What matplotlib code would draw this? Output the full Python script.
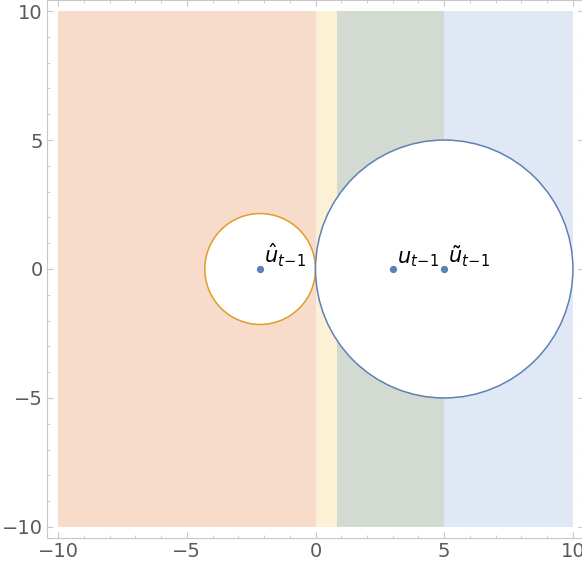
import matplotlib.pyplot as plt
from matplotlib.patches import Circle, Rectangle
from matplotlib.ticker import MultipleLocator

# region boundaries along x (full height -10..10)
region_edges = [-10, 0, 0.85, 5, 10]
region_colors = ['#f8dccb', '#fcf0d5', '#d3dad1', '#e1e8f5']

# circles: center x, radius, edge color
circle_x = [-2.15, 5.0]
circle_r = [2.15, 5.0]
circle_colors = ['#e19c24', '#5e81b5']

# points and labels
point_x = [-2.15, 3.0, 5.0]
point_labels = [r'$\hat{u}_{t\!-\!1}$', r'$u_{t\!-\!1}$', r'$\tilde{u}_{t\!-\!1}$']

fig = plt.figure(figsize=(5.82, 5.69), dpi=100)
ax = fig.add_axes([47/582, 31/569, 537/582, 538/569])

for k in range(len(region_colors)):
    ax.add_patch(Rectangle((region_edges[k], -10), region_edges[k+1] - region_edges[k], 20,
                           facecolor=region_colors[k], edgecolor='none', zorder=1))

for cx, r, c in zip(circle_x, circle_r, circle_colors):
    ax.add_patch(Circle((cx, 0), r, facecolor='white', edgecolor=c, lw=1.1, zorder=2))

ax.scatter(point_x, [0]*len(point_x), s=18, color='#5e81b5', zorder=3)
for px, lab in zip(point_x, point_labels):
    ax.text(px + 0.15, 0.0, lab, fontsize=15, ha='left', va='bottom', zorder=4)

ax.set_xlim(-10.43, 10.43)
ax.set_ylim(-10.43, 10.43)

ax.xaxis.set_major_locator(MultipleLocator(5))
ax.yaxis.set_major_locator(MultipleLocator(5))
ax.xaxis.set_minor_locator(MultipleLocator(1))
ax.yaxis.set_minor_locator(MultipleLocator(1))
ax.tick_params(which='both', direction='in', top=True, right=True, color='#c8c8c8',
               labelcolor='#5a5a5a', labelsize=14)
ax.tick_params(which='major', length=4, width=0.8, pad=3)
ax.tick_params(which='minor', length=2.5, width=0.6)
for s in ax.spines.values():
    s.set_color('#c8c8c8')
    s.set_linewidth(0.8)

fig.savefig('out.png', dpi=100)
